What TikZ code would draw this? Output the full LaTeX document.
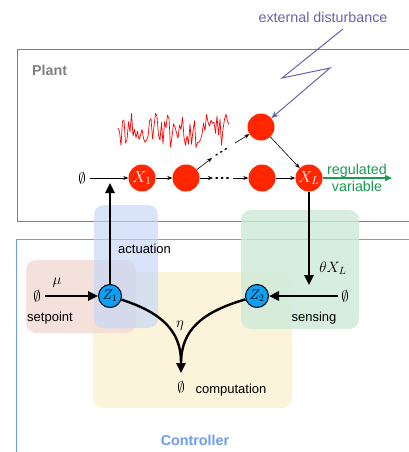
\documentclass[tikz,border=0pt]{standalone}
\usepackage{fix-cm}
\usepackage[no-math]{fontspec}
\setmainfont{Liberation Sans}
\usetikzlibrary{arrows.meta,calc}
\definecolor{nodered}{HTML}{FF2600}
\definecolor{zblue}{HTML}{0FA0F5}
\definecolor{purp}{HTML}{6A62A8}
\definecolor{grn}{HTML}{1A9A50}
\definecolor{ctrlblue}{HTML}{6C9BF0}
\definecolor{plantgray}{HTML}{808080}
\definecolor{zoneblue}{HTML}{C4D6F8}
\definecolor{zonegreen}{HTML}{CDE9D8}
\definecolor{zonepink}{HTML}{F2DCD6}
\definecolor{zoneyellow}{HTML}{FBF3DA}
\begin{document}
\begin{tikzpicture}[x=1pt,y=-1pt,
  rnode/.style={circle,fill=nodered,minimum size=27pt,inner sep=0pt,text=white,font=\fontsize{16}{16}\selectfont},
  znode/.style={circle,fill=zblue,draw=black,line width=1pt,minimum size=23pt,inner sep=0pt,font=\fontsize{14}{14}\selectfont},
  thin arr/.style={-{Stealth[length=5pt,width=4pt]},line width=0.6pt},
  thick arr/.style={-{Triangle[length=10pt,width=9pt]},line width=2.4pt},
  lbl/.style={font=\fontsize{13}{15}\selectfont,inner sep=0pt},
  big/.style={font=\fontsize{14.3}{17}\selectfont,inner sep=0pt},
  mlbl/.style={font=\fontsize{15}{15}\selectfont,inner sep=0pt},
  zone/.style={rounded corners=10pt}
]
\useasboundingbox (0,0) rectangle (409,452);
% frames
\draw[plantgray,line width=1pt] (440,50) -- (17,50) -- (17,221) -- (440,221);
\draw[ctrlblue,line width=1pt] (440,239) -- (16,239) -- (16,460);
\node[big,text=plantgray,font=\fontsize{14.3}{17}\selectfont\bfseries,anchor=west] (plantlbl) at (32,70) {Plant};
\node[big,text=ctrlblue,font=\fontsize{14.3}{17}\selectfont\bfseries] (ctrllbl) at (195,440) {Controller};
% zones
\fill[zone,fill=zoneyellow] (93,272) rectangle (292,408);
\fill[zone,fill=zonepink,fill opacity=0.85] (26,260) rectangle (136,333);
\fill[zone,fill=zoneblue,fill opacity=0.65] (94,205) rectangle (158,328);
\fill[zone,fill=zonegreen,fill opacity=0.8] (241,210) rectangle (359,329);
% noise
\pgfmathsetseed{12}
\draw[red,line width=0.7pt,line join=round] (118,128) \foreach \i in {1,...,74} { -- ({118+\i*1.5},{131+17*rand+8*rand*rand*rand}) };
% plant nodes
\node[rnode] (top) at (261,127) {};
\node[rnode] (x1) at (142,178) {$X_1$};
\node[rnode] (n2) at (186,178) {};
\node[rnode] (n3) at (262,178) {};
\node[rnode] (xl) at (309,178) {$X_L$};
\node[mlbl] (e0) at (82,178) {$\emptyset$};
\draw[thin arr] (e0.east) ++(4,0) -- (x1);
\draw[thin arr] (x1) -- (n2);
\coordinate (h1) at (213,178);
\coordinate (h2) at (233,178);
\draw[thin arr] (n2) -- (h1);
\draw[line width=1.4pt,dash pattern=on 1.4pt off 4pt,line cap=round] (216,178) -- (231,178);
\draw[thin arr] (h2) -- (n3);
\coordinate (d1) at (212,158);
\coordinate (d2) at (235,143);
\draw[thin arr] (n2) -- (d1);
\draw[line width=1.4pt,dash pattern=on 1.4pt off 4pt,line cap=round] (216,155) -- (229,147);
\draw[thin arr] (d2) -- (top);
\draw[thin arr] (top) -- (xl);
\draw[thin arr] (n3) -- (xl);
\coordinate (gout) at (392,178);
\draw[grn,-{Triangle[length=7pt,width=6pt]},line width=1.4pt] (xl) -- (gout);
\node[big,text=grn,align=center] (reg) at (357,178) {regulated\\variable};
% disturbance
\node[big,text=purp] (ext) at (323,17) {external disturbance};
\coordinate (zz0) at (343,29);
\coordinate (zz1) at (282,78);
\coordinate (zz2) at (330,68);
\draw[purp,line width=1pt,-{Stealth[length=7pt,width=6pt]}] (zz0) -- (zz1) -- (zz2) -- (top);
% controller
\node[znode] (z1) at (110,296) {$Z_1$};
\node[znode] (z2) at (257,296) {$Z_2$};
\coordinate (act) at (110,183);
\draw[thick arr] (z1) -- (act);
\node[lbl,anchor=west] (actl) at (118,249) {actuation};
\coordinate (sens) at (309,285);
\draw[thick arr] (xl) -- (sens);
\node[mlbl] (thx) at (333,268) {$\theta X_L$};
\node[mlbl] (e2) at (345,296) {$\emptyset$};
\draw[thick arr] (e2.west) ++(-3,0) -- (z2);
\node[mlbl] (e1) at (37,296) {$\emptyset$};
\draw[thick arr] (e1.east) ++(4,0) -- (z1);
\node[mlbl] (mu) at (57,283) {$\mu$};
\node[lbl] (setp) at (50,318) {setpoint};
\node[lbl] (sensl) at (314,318) {sensing};
\coordinate (cend) at (181,373);
\draw[line width=2.4pt] (z1) .. controls (160,312) and (181,330) .. (181,362);
\draw[thick arr] (z2) .. controls (202,312) and (181,330) .. (cend);
\node[mlbl] (eta) at (180,326) {$\eta$};
\node[mlbl] (e3) at (181,387) {$\emptyset$};
\node[lbl] (comp) at (231,390) {computation};
\end{tikzpicture}
\end{document}
